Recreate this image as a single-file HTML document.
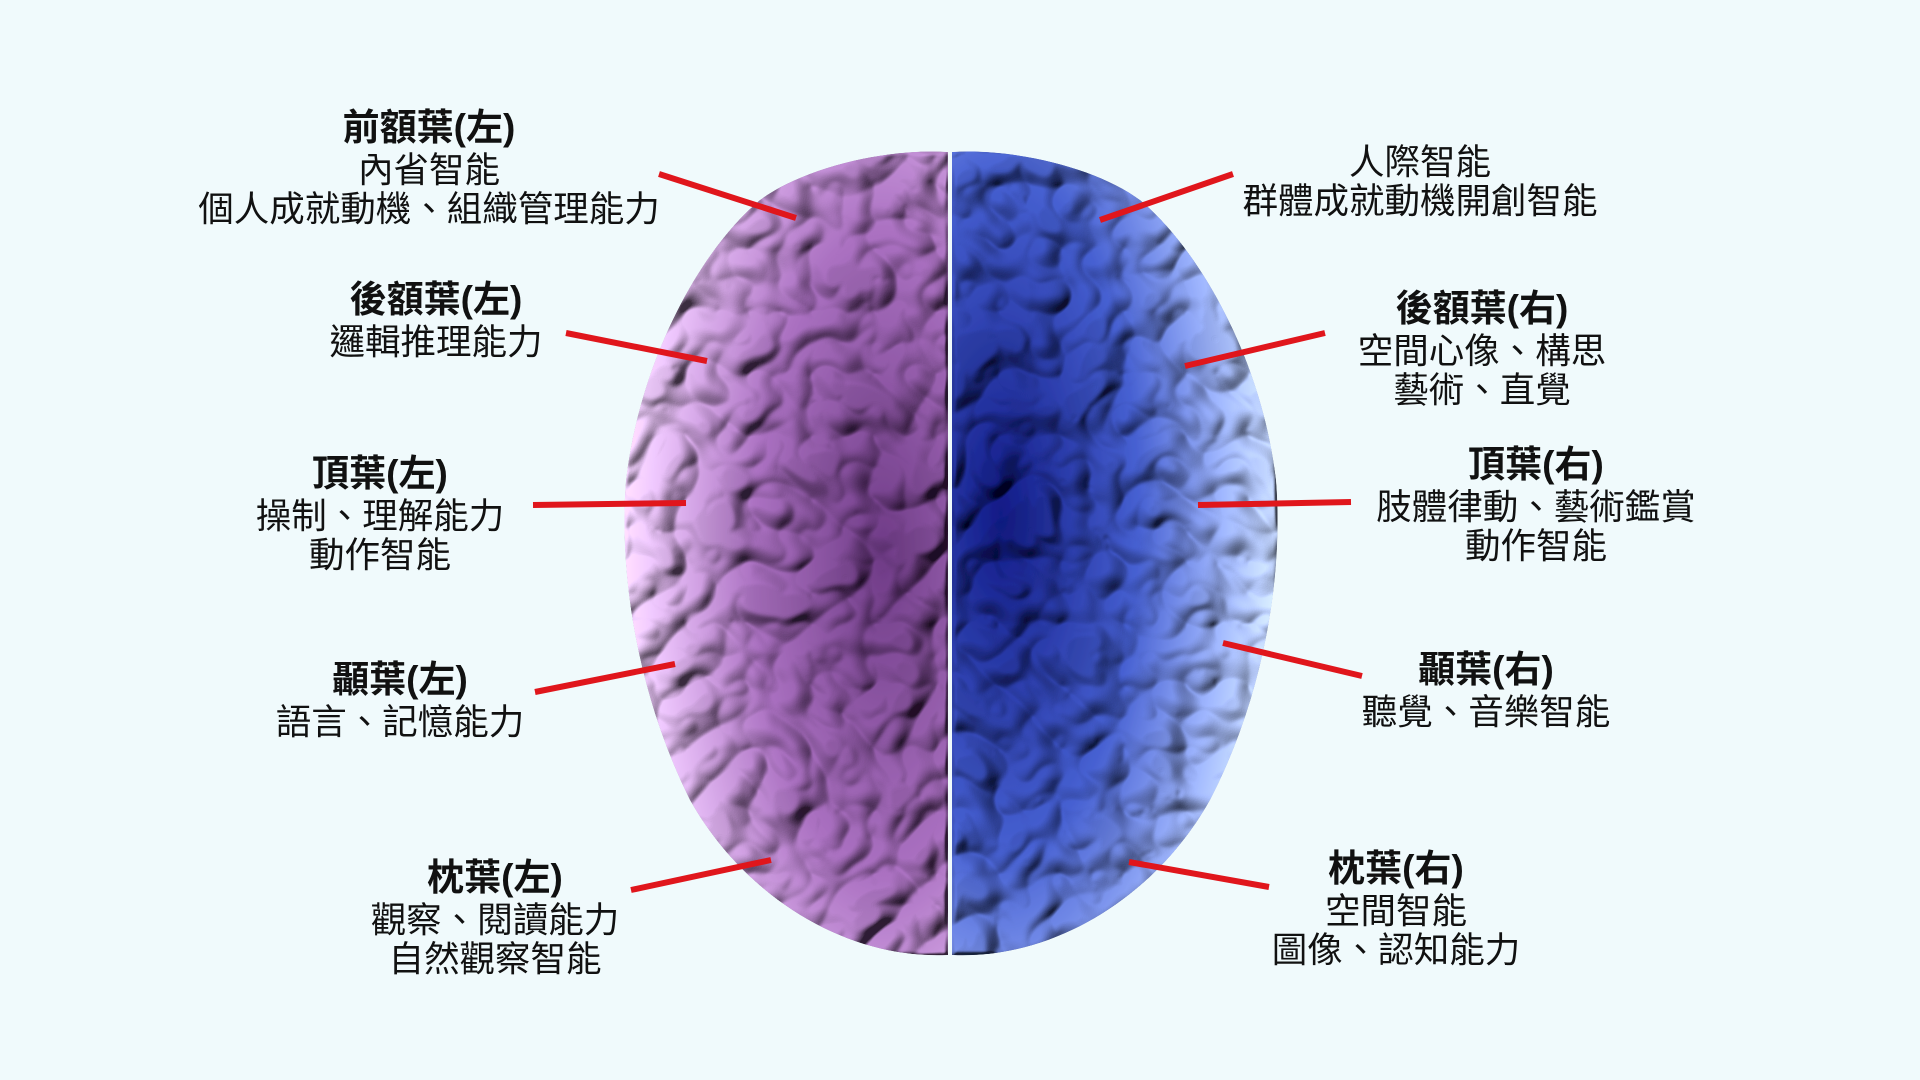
<!DOCTYPE html>
<html><head><meta charset="utf-8">
<style>
html,body{margin:0;padding:0;}
body{width:1920px;height:1080px;background:#f0fafc;position:relative;overflow:hidden;font-family:"Liberation Sans","Noto Sans CJK TC",sans-serif;color:#111;}
.lb{position:absolute;transform:translateX(-50%);text-align:center;white-space:nowrap;font-size:35.5px;line-height:39px;}
.lb b{display:block;font-size:37px;line-height:46px;font-weight:700;}
svg{position:absolute;left:0;top:0;}
</style></head><body>
<svg width="1920" height="1080" viewBox="0 0 1920 1080">
<defs>
<radialGradient id="gl" cx="0.8" cy="0.5" r="0.8">
<stop offset="0" stop-color="#5c3070"/><stop offset="0.5" stop-color="#8f5ea2"/><stop offset="1" stop-color="#d9bce4"/>
</radialGradient>
<radialGradient id="gr" cx="0.15" cy="0.45" r="0.85">
<stop offset="0" stop-color="#0c1470"/><stop offset="0.5" stop-color="#3a50b0"/><stop offset="1" stop-color="#b8caf0"/>
</radialGradient>
<filter id="gy" x="0" y="0" width="100%" height="100%">
<feTurbulence type="turbulence" baseFrequency="0.016" numOctaves="2" seed="7" result="n"/>
<feColorMatrix in="n" type="matrix" values="0 0 0 0 0  0 0 0 0 0  0 0 0 0 0  2.2 0 0 0 0" result="a"/>
<feGaussianBlur in="a" stdDeviation="2" result="ab"/>
<feDiffuseLighting in="ab" surfaceScale="9" diffuseConstant="1.1" lighting-color="#fff" result="l">
<feDistantLight azimuth="225" elevation="50"/>
</feDiffuseLighting>
<feComposite in="SourceGraphic" in2="l" operator="arithmetic" k1="1.4" k2="0.08" k3="0" k4="0" result="m"/>
<feComposite in="m" in2="SourceAlpha" operator="in"/>
</filter>
</defs>
<path d="M948,152 C880,148 800,170 760,200 C700,250 640,360 626,480 C618,580 640,700 690,800 C740,890 840,960 948,955 Z" fill="url(#gl)" filter="url(#gy)"/>
<path d="M952,152 C1020,148 1100,170 1140,200 C1200,250 1262,360 1276,480 C1284,580 1262,700 1210,800 C1160,890 1060,960 952,955 Z" fill="url(#gr)" filter="url(#gy)"/>
<g stroke="#e0161c" stroke-width="6" stroke-linecap="butt">
<line x1="659" y1="174" x2="796" y2="218"/>
<line x1="1233" y1="174" x2="1100" y2="220"/>
<line x1="566" y1="333" x2="707" y2="361"/>
<line x1="1325" y1="333" x2="1185" y2="366"/>
<line x1="533" y1="505" x2="686" y2="503"/>
<line x1="1198" y1="505" x2="1351" y2="502"/>
<line x1="535" y1="692" x2="675" y2="664"/>
<line x1="1223" y1="643" x2="1362" y2="676"/>
<line x1="631" y1="890" x2="771" y2="860"/>
<line x1="1129" y1="862" x2="1269" y2="887"/>
</g>
</svg>
<div class="lb" style="left:429px;top:105px"><b>前額葉(左)</b>內省智能<br>個人成就動機、組織管理能力</div>
<div class="lb" style="left:1420px;top:143px">人際智能<br>群體成就動機開創智能</div>
<div class="lb" style="left:436px;top:277px"><b>後額葉(左)</b>邏輯推理能力</div>
<div class="lb" style="left:1482px;top:286px"><b>後額葉(右)</b>空間心像、構思<br>藝術、直覺</div>
<div class="lb" style="left:380px;top:451px"><b>頂葉(左)</b>操制、理解能力<br>動作智能</div>
<div class="lb" style="left:1536px;top:442px"><b>頂葉(右)</b>肢體律動、藝術鑑賞<br>動作智能</div>
<div class="lb" style="left:400px;top:657px"><b>顳葉(左)</b>語言、記憶能力</div>
<div class="lb" style="left:1486px;top:647px"><b>顳葉(右)</b>聽覺、音樂智能</div>
<div class="lb" style="left:495px;top:855px"><b>枕葉(左)</b>觀察、閱讀能力<br>自然觀察智能</div>
<div class="lb" style="left:1396px;top:846px"><b>枕葉(右)</b>空間智能<br>圖像、認知能力</div>
</body></html>
